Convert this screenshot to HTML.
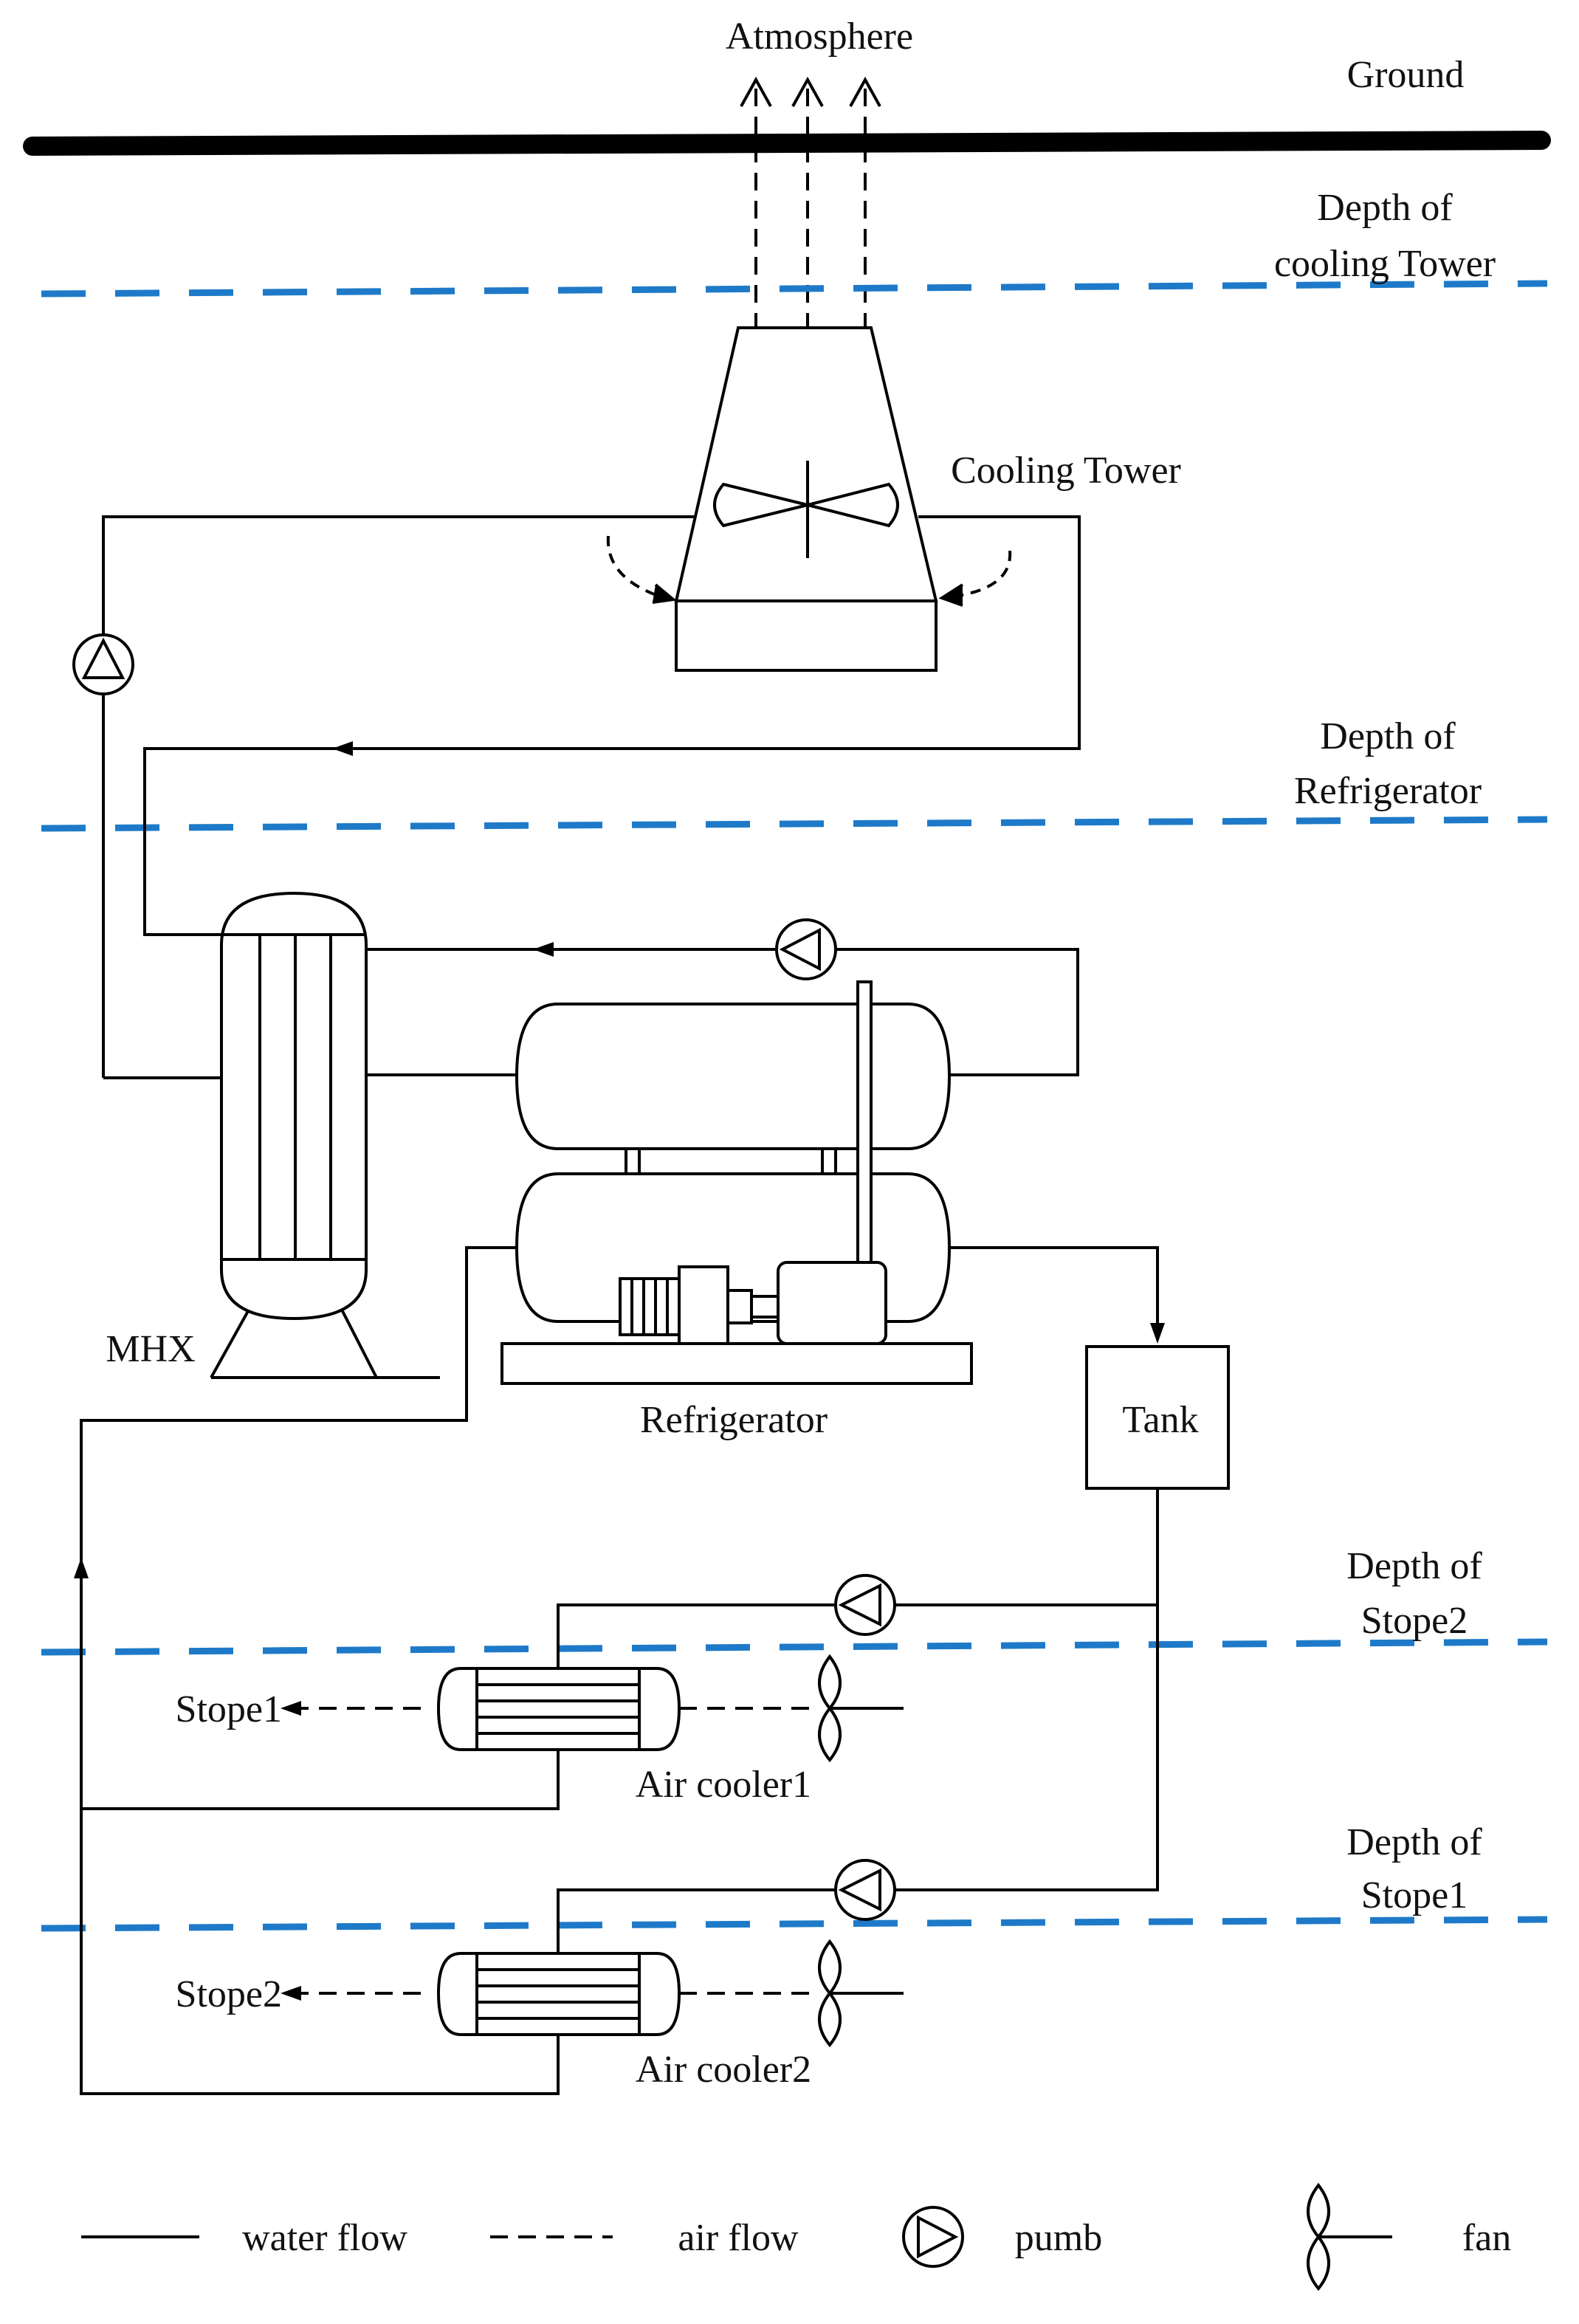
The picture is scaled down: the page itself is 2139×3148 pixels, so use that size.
<!DOCTYPE html>
<html><head><meta charset="utf-8"><style>
html,body{margin:0;padding:0;background:#fff;}
svg{display:block;}
text{font-family:"Liberation Serif",serif;font-size:26px;fill:#111;}
</style></head><body>
<svg width="2139" height="3148" viewBox="0 0 1069.5 1574" xmlns="http://www.w3.org/2000/svg">
<defs>
<marker id="ah" markerWidth="14" markerHeight="12" refX="7" refY="6" orient="auto" markerUnits="userSpaceOnUse">
<path d="M0,1 L14,6 L0,11 Z" fill="#000"/></marker>
</defs>
<g stroke="#000" fill="none" stroke-width="2">
<line x1="22" y1="99" x2="1044" y2="95" stroke-width="13" stroke-linecap="round"/>
<g stroke-dasharray="12,7">
<line x1="512" y1="60" x2="512" y2="222"/><line x1="547" y1="60" x2="547" y2="222"/><line x1="586" y1="60" x2="586" y2="222"/>
</g>
<path d="M502,72 L512,54 L522,72 M537,72 L547,54 L557,72 M576,72 L586,54 L596,72"/>
<g stroke="#1e7ac8" stroke-width="4.5" stroke-dasharray="30,20">
<line x1="28" y1="199" x2="1048" y2="192"/>
<line x1="28" y1="561" x2="1048" y2="555"/>
<line x1="28" y1="1119" x2="1048" y2="1112"/>
<line x1="28" y1="1306" x2="1048" y2="1300"/>
</g>
<path d="M500,222 L590,222 L634,407 L458,407 Z"/>
<rect x="458" y="407" width="176" height="47"/>
<path d="M547,342 L490,328 Q478,342 490,356 Z"/>
<path d="M547,342 L602,328 Q614,342 602,356 Z"/>
<line x1="547" y1="312" x2="547" y2="378"/>
<path d="M412,363 Q410,392 450,405" stroke-dasharray="7,5"/>
<path d="M444,396 L456,406 L442,408" fill="#000"/>
<path d="M684,373 Q686,398 646,404" stroke-dasharray="7,5"/>
<path d="M652,396 L638,405 L652,410" fill="#000"/>
<path d="M70,730 L70,350 L470,350"/>
<path d="M622,350 L731,350 L731,507 L98,507 L98,633 L150,633"/>
<path d="M246,507 L232,507" marker-end="url(#ah)"/>
<circle cx="70" cy="450" r="20" fill="#fff"/>
<path d="M70,434 L57,459 L83,459 Z"/>
<line x1="70" y1="730" x2="150" y2="730"/>
<path d="M150,640 Q150,605 199,605 Q248,605 248,640 L248,860 Q248,893 199,893 Q150,893 150,860 Z" fill="#fff"/>
<line x1="150" y1="633" x2="248" y2="633"/>
<line x1="150" y1="853" x2="248" y2="853"/>
<line x1="176" y1="633" x2="176" y2="853"/><line x1="200" y1="633" x2="200" y2="853"/><line x1="224" y1="633" x2="224" y2="853"/>
<path d="M168,888 L143,933 M232,888 L255,933"/>
<line x1="143" y1="933" x2="298" y2="933"/>
<path d="M248,643 L730,643 L730,728 L643,728"/>
<path d="M382,643 L368,643" marker-end="url(#ah)"/>
<circle cx="546" cy="643" r="20" fill="#fff"/>
<path d="M530,643 L555,630 L555,656 Z"/>
<line x1="248" y1="728" x2="350" y2="728"/>
<path d="M378,680 L615,680 Q643,680 643,729 Q643,778 615,778 L378,778 Q350,778 350,729 Q350,680 378,680 Z"/>
<path d="M378,795 L615,795 Q643,795 643,845 Q643,895 615,895 L378,895 Q350,895 350,845 Q350,795 378,795 Z"/>
<path d="M424,778 L424,795 M433,778 L433,795 M557,778 L557,795 M566,778 L566,795"/>
<rect x="581" y="665" width="9" height="195" fill="#fff"/>
<rect x="420" y="866" width="40" height="38" fill="#fff"/>
<path d="M428,866 L428,904 M436,866 L436,904 M444,866 L444,904 M452,866 L452,904"/>
<rect x="460" y="858" width="33" height="52" fill="#fff"/>
<rect x="493" y="874" width="16" height="22" fill="#fff"/>
<rect x="509" y="878" width="18" height="14" fill="#fff"/>
<rect x="527" y="855" width="73" height="55" rx="6" fill="#fff"/>
<rect x="340" y="910" width="318" height="27"/>
<path d="M350,845 L316,845 L316,962 L55,962 L55,1418 L378,1418 L378,1378"/>
<path d="M55,1080 L55,1062" marker-end="url(#ah)"/>
<path d="M643,845 L784,845 L784,903" marker-end="url(#ah)"/>
<rect x="736" y="912" width="96" height="96"/>
<path d="M784,1008 L784,1280 L606,1280"/>
<path d="M784,1087 L606,1087"/>
<circle cx="586" cy="1087" r="20" fill="#fff"/>
<path d="M570,1087 L596,1074 L596,1100 Z"/>
<path d="M566,1087 L378,1087 L378,1130"/>
<path d="M378,1185 L378,1225 L55,1225"/>
<circle cx="586" cy="1280" r="20" fill="#fff"/>
<path d="M570,1280 L596,1267 L596,1293 Z"/>
<path d="M566,1280 L378,1280 L378,1323"/>
<path d="M312,1130 L445,1130 Q460,1130 460,1157 Q460,1185 445,1185 L312,1185 Q297,1185 297,1157 Q297,1130 312,1130 Z"/>
<path d="M323,1130 L323,1185 M433,1130 L433,1185 M323,1141 L433,1141 M323,1152 L433,1152 M323,1163 L433,1163 M323,1174 L433,1174"/>
<path d="M312,1323 L445,1323 Q460,1323 460,1350 Q460,1378 445,1378 L312,1378 Q297,1378 297,1350 Q297,1323 312,1323 Z"/>
<path d="M323,1323 L323,1378 M433,1323 L433,1378 M323,1334 L433,1334 M323,1345 L433,1345 M323,1356 L433,1356 M323,1367 L433,1367"/>
<g stroke-dasharray="12,7">
<line x1="460" y1="1157" x2="550" y2="1157"/><line x1="285" y1="1157" x2="207" y2="1157"/>
<line x1="460" y1="1350" x2="550" y2="1350"/><line x1="285" y1="1350" x2="207" y2="1350"/>
<line x1="332" y1="1515" x2="415" y2="1515"/>
</g>
<path d="M208,1157 L197,1157" marker-end="url(#ah)"/>
<path d="M208,1350 L197,1350" marker-end="url(#ah)"/>
<g id="fan">
<path d="M562,1157 Q548,1140 562,1122 Q576,1140 562,1157 Q548,1175 562,1192 Q576,1175 562,1157 Z"/>
<line x1="562" y1="1157" x2="612" y2="1157"/>
</g>
<use href="#fan" transform="translate(0,193)"/>
<use href="#fan" transform="translate(331,358)"/>
<line x1="55" y1="1515" x2="135" y2="1515"/>
<circle cx="632" cy="1515" r="20"/>
<path d="M647,1515 L622,1502 L622,1528 Z"/>
</g>
<text x="555" y="33" text-anchor="middle">Atmosphere</text>
<text x="952" y="59" text-anchor="middle">Ground</text>
<text x="938" y="149" text-anchor="middle">Depth of</text>
<text x="938" y="187" text-anchor="middle">cooling Tower</text>
<text x="722" y="327" text-anchor="middle">Cooling Tower</text>
<text x="940" y="507" text-anchor="middle">Depth of</text>
<text x="940" y="544" text-anchor="middle">Refrigerator</text>
<text x="102" y="922" text-anchor="middle">MHX</text>
<text x="497" y="970" text-anchor="middle">Refrigerator</text>
<text x="786" y="970" text-anchor="middle">Tank</text>
<text x="958" y="1069" text-anchor="middle">Depth of</text>
<text x="958" y="1106" text-anchor="middle">Stope2</text>
<text x="191" y="1166" text-anchor="end">Stope1</text>
<text x="490" y="1217" text-anchor="middle">Air cooler1</text>
<text x="958" y="1256" text-anchor="middle">Depth of</text>
<text x="958" y="1292" text-anchor="middle">Stope1</text>
<text x="191" y="1359" text-anchor="end">Stope2</text>
<text x="490" y="1410" text-anchor="middle">Air cooler2</text>
<text x="220" y="1524" text-anchor="middle">water flow</text>
<text x="500" y="1524" text-anchor="middle">air flow</text>
<text x="717" y="1524" text-anchor="middle">pumb</text>
<text x="1007" y="1524" text-anchor="middle">fan</text>
</svg>
</body></html>
